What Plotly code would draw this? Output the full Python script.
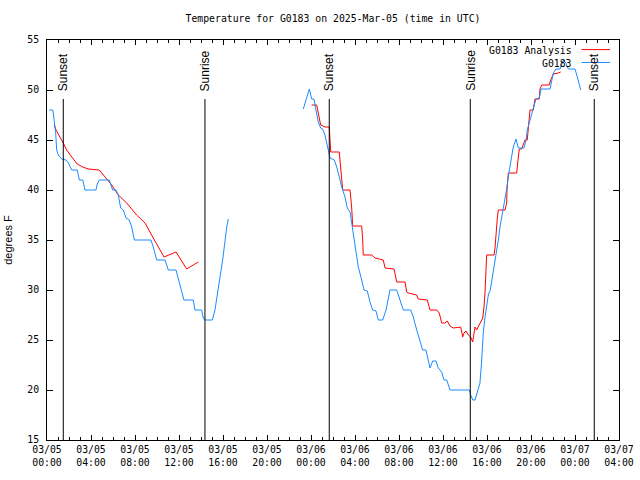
import plotly.graph_objects as go
import pandas as pd

BASE = pd.Timestamp("2025-03-05 00:00")

# Hours since 2025-03-05 00:00 UTC, temperature in degrees F
ana_hours = [0.66, 0.82, 1.48, 1.79, 2.25, 2.75, 3.25, 3.75, 4.75, 5.27, 5.88, 6.48, 7.25, 8.15,
             8.91, 9.66, 10.64, 11.73, 12.70, 13.75, None,
             24.06, 24.52, 24.66, 24.82, 24.88, 25.27, 25.66, 25.73, 25.79, 26.57, 26.64, 26.79,
             26.88, 27.55, 27.61, 27.70, 27.79, 28.61, 28.70, 28.75, 29.52, 29.82, 30.57, 30.73,
             31.55, 31.73, 31.79, 32.55, 32.70, 32.85, 33.61, 33.75, 34.57, 34.82, 35.43, 35.66,
             35.88, 36.18, 36.39, 36.64, 36.94, 37.61, 37.79, 37.91, 38.09, 38.30, 38.52, 38.70,
             38.91, 39.06, 39.36, 39.61, 39.73, 39.82, 39.97, 40.64, 40.73, 40.82, 40.94, 41.03,
             41.64, 41.79, 41.82, 41.94, 42.70, 42.85, 42.94, 43.15, 43.45, 43.66, 43.75, 43.91,
             44.21, 44.36, 44.75, 44.82, 44.97, 45.66, 45.79, 46.03, 46.48, 46.70]
ana_temp = [46.5, 46.0, 44.7, 44.0, 43.3, 42.6, 42.3, 42.1, 42.0, 41.3, 40.5, 39.5, 38.7, 37.5,
            36.7, 35.2, 33.3, 33.8, 32.1, 32.8, None,
            48.5, 48.5, 47.7, 46.7, 46.5, 46.3, 46.3, 45.0, 43.8, 43.8, 43.0, 40.7,
            40.0, 40.0, 39.5, 38.2, 36.4, 36.4, 35.0, 33.5, 33.5, 33.2, 33.0, 32.2,
            32.1, 31.0, 30.8, 30.8, 29.8, 29.7, 29.5, 29.1, 29.0, 28.0, 28.0, 27.7,
            26.7, 26.7, 26.9, 26.4, 26.2, 26.3, 25.3, 25.7, 25.9, 25.5, 25.3, 24.8,
            26.3, 26.0, 26.7, 27.2, 28.3, 29.8, 33.5, 33.5, 34.2, 35.7, 37.2, 38.0,
            38.0, 38.7, 40.0, 41.7, 41.7, 43.3, 44.1, 44.1, 45.0, 45.0, 46.3, 48.0,
            48.0, 49.1, 49.1, 50.1, 50.5, 50.5, 51.0, 51.6, 51.7, 51.8]

obs_hours = [0.21, 0.52, 0.57, 0.70, 0.79, 0.88, 1.03, 1.34, 1.73, 1.94, 2.25, 2.75, 2.94, 3.25,
             3.45, 4.45, 4.57, 4.75, 5.66, 5.97, 6.27, 6.48, 6.70, 6.94, 7.18, 7.48, 7.70, 7.94,
             9.45, 9.66, 9.97, 10.73, 11.03, 11.73, 11.94, 12.25, 12.45, 13.30, 13.45, 14.06,
             14.21, 14.36, 15.03, 15.27, 15.43, 15.73, 15.97, 16.18, 16.34, 16.48, None,
             23.30, 23.61, 23.85, 24.06, 24.27, 24.45, 24.66, 24.88, 25.06, 25.27, 25.48, 25.73,
             26.12, 26.34, 26.57, 26.79, 27.09, 27.30, 27.55, 27.70, 27.85, 28.06, 28.30, 28.61,
             28.82, 29.12, 29.36, 29.61, 29.91, 30.12, 30.52, 30.82, 31.03, 31.18, 31.79, 32.09,
             32.39, 33.06, 33.30, 33.61, 33.91, 34.15, 34.45, 34.66, 34.82, 35.06, 35.36, 35.57,
             35.88, 36.09, 36.34, 36.64, 38.39, 38.52, 38.70, 38.91, 39.12, 39.36, 39.52, 39.66,
             39.82, 39.97, 40.12, 40.30, 40.57, 40.88, 41.03, 41.18, 41.34, 41.48, 41.64, 41.79,
             41.94, 42.09, 42.25, 42.39, 42.64, 42.85, 43.36, 43.55, 43.66, 43.91, 44.21, 44.45,
             44.75, 44.91, 45.73, 45.88, 46.03, 46.27, 46.64, 46.94, 47.18, 47.39, 48.00, 48.21,
             48.39, 48.52]
obs_temp = [48.0, 48.0, 47.7, 46.7, 45.7, 44.0, 43.5, 43.1, 43.0, 42.7, 42.0, 42.0, 41.0, 41.0,
            40.0, 40.0, 40.6, 41.0, 41.0, 40.0, 40.0, 39.5, 38.2, 38.0, 37.2, 37.0, 36.3, 35.0,
            35.0, 34.3, 33.0, 33.0, 32.0, 32.0, 31.2, 30.0, 29.0, 29.0, 28.0, 28.0,
            27.2, 27.0, 27.0, 28.0, 29.3, 31.3, 33.0, 35.2, 36.3, 37.1, None,
            48.1, 49.2, 50.1, 49.1, 49.1, 48.0, 46.8, 46.2, 46.1, 45.5, 44.5, 43.2,
            43.0, 42.3, 41.3, 40.3, 39.3, 38.2, 37.8, 36.7, 35.3, 34.0, 32.3, 31.0,
            30.0, 29.9, 28.8, 28.0, 27.9, 27.0, 27.0, 28.0, 29.3, 30.0, 30.0, 29.0,
            28.0, 28.0, 27.3, 26.0, 24.8, 24.0, 24.0, 23.0, 22.2, 22.9, 22.9, 22.2,
            21.8, 21.0, 21.0, 20.0, 20.0, 19.5, 19.0, 19.0, 19.7, 20.7, 23.0, 25.7,
            27.3, 28.7, 29.5, 30.0, 31.7, 33.7, 35.0, 36.3, 37.3, 38.2, 39.0, 40.1,
            41.4, 42.3, 43.3, 44.3, 45.1, 44.2, 44.2, 45.0, 46.0, 47.0, 48.0, 49.1,
            49.2, 50.1, 50.1, 51.0, 51.7, 52.1, 52.1, 53.0, 52.7, 52.1, 52.1, 51.3,
            50.5, 50.0]

sun_hours = [1.48, 14.36, 25.66, 38.48, 49.75]
sun_labels = ["Sunset", "Sunrise", "Sunset", "Sunrise", "Sunset"]
sun_line_top = 49.1

series_names = ["G0183 Analysis", "G0183"]
series_colors = ["#ff0000", "#1a8cff"]


def to_time(hours):
    return [None if h is None else BASE + pd.Timedelta(hours=h) for h in hours]


MONO = "DejaVu Sans Mono"
SANS = "Liberation Sans"

fig = go.Figure()
fig.add_trace(go.Scatter(x=to_time(ana_hours), y=ana_temp, mode="lines",
                         name=series_names[0], line=dict(color=series_colors[0], width=1)))
fig.add_trace(go.Scatter(x=to_time(obs_hours), y=obs_temp, mode="lines",
                         name=series_names[1], line=dict(color=series_colors[1], width=1)))

for h, lab in zip(sun_hours, sun_labels):
    t = BASE + pd.Timedelta(hours=h)
    fig.add_shape(type="line", xref="x", yref="y", x0=t, x1=t, y0=15, y1=sun_line_top,
                  line=dict(color="black", width=1))
    fig.add_annotation(x=t, y=sun_line_top, xref="x", yref="y", text=lab, textangle=-90,
                       showarrow=False, xanchor="center", yanchor="bottom", yshift=6,
                       font=dict(family=SANS, size=12, color="black"))

# legend (gnuplot style: text then sample on the right)
leg_y_text = [0.974, 0.9415]
leg_y_line = [0.976, 0.9438]
for name, col, yt, yl in zip(series_names, series_colors, leg_y_text, leg_y_line):
    fig.add_annotation(x=0.9213, y=yt, xref="paper", yref="paper", text=name, showarrow=False,
                       xanchor="right", yanchor="middle", font=dict(family=MONO, size=9.8, color="black"))
    fig.add_shape(type="line", xref="paper", yref="paper", x0=0.9344, x1=0.9843, y0=yl, y1=yl,
                  line=dict(color=col, width=1))

fig.update_layout(
    width=640, height=480,
    margin=dict(l=47, r=21, t=40, b=40),
    paper_bgcolor="white", plot_bgcolor="white",
    showlegend=False,
    title=dict(text="Temperature for G0183 on 2025-Mar-05 (time in UTC)",
               x=333 / 640, xanchor="center", y=1 - 19 / 480, yanchor="middle",
               font=dict(family=MONO, size=9.8, color="black")),
    font=dict(family=MONO, size=9.8, color="black"),
)
fig.update_xaxes(
    type="date", automargin=False,
    range=[BASE, BASE + pd.Timedelta(hours=52)],
    tick0=BASE, dtick=4 * 3600 * 1000, tickformat="%m/%d<br>%H:%M",
    ticks="inside", ticklen=5, tickcolor="black", tickwidth=1,
    minor=dict(dtick=3600 * 1000, ticks="inside", ticklen=3, tickcolor="black", tickwidth=1),
    showline=True, linecolor="black", linewidth=1, mirror="allticks",
    showgrid=False, zeroline=False,
    tickfont=dict(family=MONO, size=9.8, color="black"),
)
fig.update_yaxes(
    automargin=False,
    range=[15, 55], tick0=15, dtick=5,
    ticks="inside", ticklen=6, tickcolor="black", tickwidth=1,
    showline=True, linecolor="black", linewidth=1, mirror="allticks",
    showgrid=False, zeroline=False, ticklabelstandoff=5,
    tickfont=dict(family=MONO, size=9.8, color="black"),
    title=dict(text="degrees F", font=dict(family=SANS, size=11, color="black"), standoff=12),
)

fig.write_html("out.html", config={"displayModeBar": False},
               post_script="document.body.style.margin='0px';")
